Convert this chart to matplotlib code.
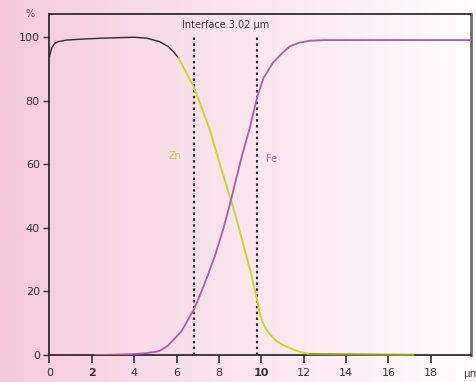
import matplotlib.pyplot as plt
import numpy as np
from matplotlib.colors import LinearSegmentedColormap

# depth (um) and concentration (%)
base_x = [0.0, 0.1, 0.25, 0.4, 0.8, 1.5, 2.5, 3.5, 4.0, 4.6, 5.2, 5.6, 5.9, 6.1]
base_y = [93.8, 96.5, 98.0, 98.5, 99.0, 99.3, 99.6, 99.8, 99.9, 99.6, 98.5, 97.0, 95.0, 93.3]

zn_x = [6.1, 6.4, 6.8, 7.2, 7.57, 8.0, 8.5, 8.72, 9.1, 9.5, 9.77, 9.9, 10.05, 10.2, 10.4,
        10.7, 11.0, 11.34, 11.8, 12.3]
zn_y = [93.3, 89.5, 84.4, 77.5, 70.8, 61.0, 50.0, 45.3, 36.0, 26.0, 18.2, 14.0, 10.6, 8.4, 6.5,
        4.5, 3.2, 2.2, 1.0, 0.3]
zn_tail_x = [12.3, 17.15]
zn_tail_y = [0.3, 0.0]

fe_x = [2.2, 3.0, 4.0, 4.6, 5.0, 5.2, 5.6, 6.0, 6.23, 6.4, 6.7, 6.8, 7.3, 7.8, 8.2, 8.5, 8.8, 9.1,
        9.46, 9.8, 10.1, 10.56, 11.0, 11.34, 11.8, 12.3, 13.0, 15.0, 19.85]
fe_y = [0.0, 0.1, 0.3, 0.6, 1.0, 1.3, 3.0, 5.8, 7.5, 9.4, 13.0, 14.0, 22.0, 31.0, 39.5, 47.0, 55.0, 63.0,
        71.5, 81.0, 87.0, 92.0, 95.0, 97.0, 98.2, 98.8, 99.0, 99.0, 99.0]

interfaces = [6.80, 9.82]
x_ticks = [0, 2, 4, 6, 8, 10, 12, 14, 16, 18]
y_ticks = [0, 20, 40, 60, 80, 100]

fig = plt.figure(figsize=(4.77, 3.82), dpi=100)

# pink to white background
bg = fig.add_axes([0, 0, 1, 1], zorder=-10)
grad = np.linspace(0, 1, 256).reshape(1, -1)
cmap = LinearSegmentedColormap.from_list('pk', ['#f6c9dd', '#f9dde9', '#fcecf3', '#fffdfe'])
bg.imshow(grad, aspect='auto', cmap=cmap, extent=[0, 1, 0, 1])
bg.axis('off')

ax = fig.add_axes([49.5 / 477, (382 - 355) / 382, (471 - 49.5) / 477, (355 - 14) / 382])
ax.patch.set_alpha(0)
ax.set_xlim(0, 19.9)
ax.set_ylim(0, 107.2)

ax.plot(base_x, base_y, color='#2b2b2b', lw=1.0, zorder=3)
ax.plot(zn_x, zn_y, color='#c9d62e', lw=1.4, zorder=3)
ax.plot(zn_tail_x, zn_tail_y, color='#8f9c2a', lw=1.6, zorder=4, clip_on=False)
ax.plot(fe_x, fe_y, color='#b15aa9', lw=1.3, zorder=3)

for xi in interfaces:
    ax.plot([xi, xi], [0, 100], color='#2a2a2a', lw=1.5, ls=(0, (1.2, 1.6)), zorder=2)

ax.text(8.31, 102.3, 'Interface 3.02 µm', ha='center', va='bottom', fontsize=7, color='#333333')
ax.text(5.95, 62.5, 'Zn', ha='center', va='center', fontsize=7, color='#c2d22a')
ax.text(10.5, 61.5, 'Fe', ha='center', va='center', fontsize=7, color='#b562ad')
fig.text(30 / 477, 1 - 14 / 382, '%', ha='center', va='center', fontsize=7, color='#444444')
fig.text(463 / 477, 1 - 374 / 382, 'µm', ha='left', va='center', fontsize=7.5, color='#444444')

ax.set_xticks(x_ticks)
ax.set_xticklabels([str(t) for t in x_ticks])
for lab in ax.get_xticklabels():
    if lab.get_text() in ('2', '10'):
        lab.set_fontweight('bold')
ax.set_yticks(y_ticks)
ax.tick_params(axis='x', direction='out', length=6, width=1.2, color='#333333',
               labelsize=8, labelcolor='#333333', pad=3)
ax.tick_params(axis='y', direction='out', length=4, width=1.0, color='#333333',
               labelsize=8, labelcolor='#333333', pad=3)

for s in ['left', 'bottom', 'top']:
    ax.spines[s].set_color('#2e2e2e')
    ax.spines[s].set_linewidth(1.3)
ax.spines['right'].set_color('#6e6e6e')
ax.spines['right'].set_linewidth(2.0)

fig.savefig('out.png', dpi=100)
